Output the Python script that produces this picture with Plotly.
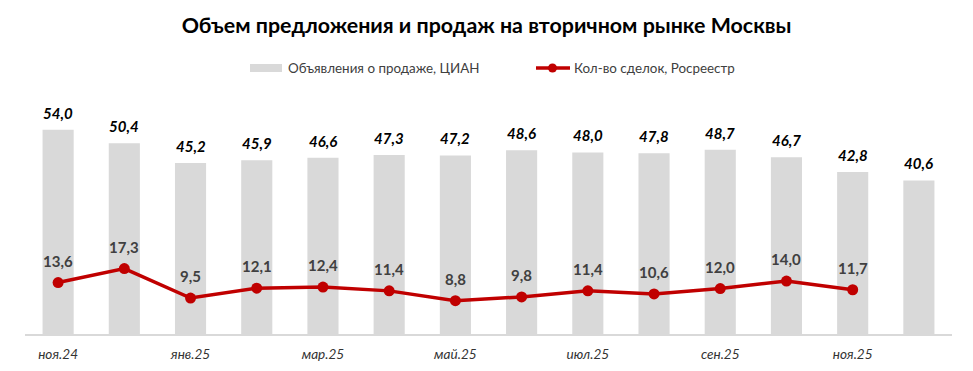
import plotly.graph_objects as go

months = ["ноя.24", "дек.24", "янв.25", "фев.25", "мар.25", "апр.25", "май.25",
          "июн.25", "июл.25", "авг.25", "сен.25", "окт.25", "ноя.25", "дек.25"]
listings = [54.0, 50.4, 45.2, 45.9, 46.6, 47.3, 47.2, 48.6, 48.0, 47.8, 48.7, 46.7, 42.8, 40.6]
deals = [13.6, 17.3, 9.5, 12.1, 12.4, 11.4, 8.8, 9.8, 11.4, 10.6, 12.0, 14.0, 11.7, None]
tick_labels = ["ноя.24", "янв.25", "мар.25", "май.25", "июл.25", "сен.25", "ноя.25"]
name_bar = "Объявления о продаже, ЦИАН"
name_line = "Кол-во сделок, Росреестр"
title_text = "Объем предложения и продаж на вторичном рынке Москвы"


def fmt(v):
    return f"{v:.1f}".replace(".", ",")


FONT = "Lato"
RED = "#C00000"
GRAY = "#D9D9D9"

# figure geometry (page adds an 8px body margin)
W, H = 957, 355
L, R, T, B = 17, 13, 99, 29
DW, DH = W - L - R, H - T - B


def px(x):
    return (x - L) / DW


def py(y):
    return (H - B - y) / DH


fig = go.Figure()
fig.add_trace(go.Bar(
    x=months, y=listings, name=name_bar,
    marker=dict(color=GRAY, line=dict(width=0)),
    showlegend=False,
))
dm = [m for m, v in zip(months, deals) if v is not None]
dv = [v for v in deals if v is not None]
fig.add_trace(go.Scatter(
    x=dm, y=dv, name=name_line, mode="lines+markers",
    line=dict(color=RED, width=3.5),
    marker=dict(color=RED, size=11),
    showlegend=False, cliponaxis=False,
))

annotations = []
for m, v in zip(months, listings):
    annotations.append(dict(
        x=m, y=v, xref="x", yref="y", text=f"<b><i>{fmt(v)}</i></b>",
        showarrow=False, yanchor="middle", yshift=17,
        font=dict(family=FONT, size=15, color="#000000")))
for m, v in zip(dm, dv):
    annotations.append(dict(
        x=m, y=v, xref="x", yref="y", text=f"<b>{fmt(v)}</b>",
        showarrow=False, yanchor="middle", yshift=22,
        font=dict(family=FONT, size=15, color="#404040")))

# manual legend
LEG_Y = 60
annotations.append(dict(x=px(278), y=py(LEG_Y), xref="paper", yref="paper",
                        text=name_bar, showarrow=False, xanchor="left", yanchor="middle",
                        font=dict(family=FONT, size=13.4, color="#404040")))
annotations.append(dict(x=px(564), y=py(LEG_Y), xref="paper", yref="paper",
                        text=name_line, showarrow=False, xanchor="left", yanchor="middle",
                        font=dict(family=FONT, size=13.4, color="#404040")))
shapes = [
    dict(type="rect", xref="paper", yref="paper", x0=px(242), x1=px(274),
         y0=py(LEG_Y - 4), y1=py(LEG_Y + 4), fillcolor=GRAY, line=dict(width=0)),
    dict(type="line", xref="paper", yref="paper", x0=px(528), x1=px(562),
         y0=py(LEG_Y), y1=py(LEG_Y), line=dict(color=RED, width=3.5)),
    dict(type="circle", xref="paper", yref="paper", x0=px(540), x1=px(549),
         y0=py(LEG_Y - 4.5), y1=py(LEG_Y + 4.5), fillcolor=RED, line=dict(width=0)),
]

fig.update_layout(
    width=W, height=H,
    margin=dict(l=L, r=R, t=T, b=B, autoexpand=False),
    paper_bgcolor="white", plot_bgcolor="white",
    bargap=0.53,
    showlegend=False,
    title=dict(text=f"<b>{title_text}</b>",
               x=0.5, xanchor="center", y=1 - 18 / H, yanchor="middle",
               xref="container", yref="container", automargin=False,
               font=dict(family=FONT, size=21.4, color="#000000")),
    xaxis=dict(type="category", categoryorder="array", categoryarray=months,
               range=[-0.5, len(months) - 0.5],
               tickvals=tick_labels, ticktext=[f"<i>{t}</i>" for t in tick_labels],
               tickfont=dict(family=FONT, size=13.6, color="#333333"),
               ticklabelstandoff=7,
               showline=True, linecolor=GRAY, linewidth=1.5,
               showgrid=False, ticks="", ticklen=0, automargin=False),
    yaxis=dict(range=[0, 60], visible=False, showgrid=False, zeroline=False,
               automargin=False),
    annotations=annotations,
    shapes=shapes,
)

fig.write_html("out.html")
